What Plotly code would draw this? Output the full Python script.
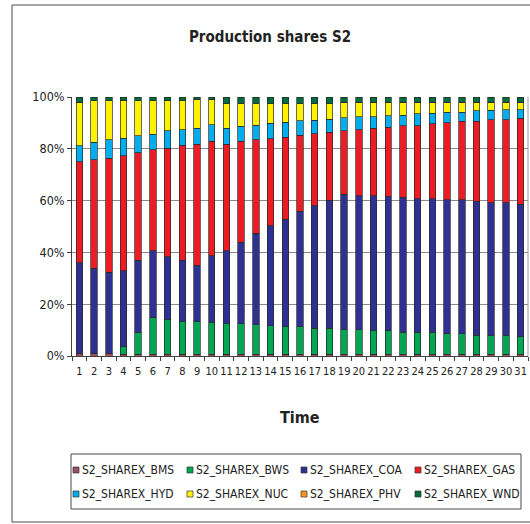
import plotly.graph_objects as go

# ---------------- data ----------------
time_labels = [str(i) for i in range(1, 32)]

series_names = ["S2_SHAREX_BMS", "S2_SHAREX_BWS", "S2_SHAREX_COA", "S2_SHAREX_GAS",
                "S2_SHAREX_HYD", "S2_SHAREX_NUC", "S2_SHAREX_PHV", "S2_SHAREX_WND"]

bms = [1.0, 1.0, 1.0, 0.7, 0.7, 0.7, 0.7, 0.7, 0.7, 0.7,
       0.7, 0.7, 0.7, 0.7, 0.7, 0.7, 0.7, 0.7, 0.7, 0.7,
       0.7, 0.7, 0.7, 0.7, 0.7, 0.7, 0.7, 0.7, 0.7, 0.7, 0.7]
bws = [0.0, 0.0, 0.0, 2.9, 8.4, 14.1, 13.5, 12.8, 12.8, 12.3,
       11.8, 11.8, 11.3, 11.0, 10.6, 10.6, 10.0, 10.0, 9.5, 9.5,
       9.0, 9.0, 8.4, 8.4, 8.4, 7.8, 7.8, 7.3, 7.3, 7.3, 6.8]
coa = [35.1, 32.9, 31.3, 29.3, 27.8, 25.9, 24.2, 23.4, 21.6, 25.8,
       28.1, 31.4, 35.4, 38.6, 41.5, 44.5, 47.3, 49.5, 52.3, 51.7,
       52.2, 51.9, 52.2, 51.7, 51.7, 51.8, 51.8, 51.7, 51.1, 51.1, 51.1]
gas = [38.9, 41.9, 44.0, 44.4, 41.6, 38.9, 41.8, 44.4, 46.7, 44.2,
       41.2, 39.1, 36.1, 33.5, 31.6, 29.4, 27.8, 26.1, 24.5, 25.5,
       26.0, 26.8, 27.6, 28.1, 28.8, 29.8, 30.3, 31.0, 32.1, 32.1, 33.2]
hyd = [6.2, 6.8, 7.2, 6.7, 6.6, 6.1, 6.8, 6.1, 6.2, 6.3,
       6.2, 5.7, 5.5, 6.0, 5.8, 5.7, 5.2, 5.2, 4.9, 4.9,
       4.4, 4.4, 4.1, 4.7, 4.2, 4.1, 3.6, 3.9, 3.6, 3.9, 3.3]
nuc = [16.7, 16.0, 15.1, 14.6, 13.5, 12.9, 11.6, 11.2, 11.2, 9.9,
       9.4, 8.6, 8.3, 7.5, 7.1, 6.4, 6.3, 5.8, 6.0, 5.6,
       5.6, 5.1, 4.9, 4.3, 4.1, 3.7, 3.7, 3.3, 3.1, 2.8, 2.8]
phv = [0.0, 0.0, 0.0, 0.0, 0.0, 0.0, 0.0, 0.0, 0.0, 0.0,
       0.0, 0.0, 0.0, 0.0, 0.0, 0.0, 0.1, 0.1, 0.1, 0.1,
       0.1, 0.1, 0.1, 0.1, 0.1, 0.1, 0.1, 0.1, 0.1, 0.1, 0.1]
wnd = [2.1, 1.4, 1.4, 1.4, 1.4, 1.4, 1.4, 1.4, 0.8, 0.8,
       2.6, 2.7, 2.7, 2.7, 2.7, 2.7, 2.6, 2.6, 2.0, 2.0,
       2.0, 2.0, 2.0, 2.0, 2.0, 2.0, 2.0, 2.0, 2.0, 2.0, 2.0]

series_values = [bms, bws, coa, gas, hyd, nuc, phv, wnd]
series_colors = ["#9B4F60", "#00A651", "#2E3092", "#ED1C24",
                 "#00AEEF", "#FFF200", "#F7941D", "#006B3F"]

y_ticks = [0, 20, 40, 60, 80, 100]
y_tick_labels = ["0%", "20%", "40%", "60%", "80%", "100%"]

# ---------------- figure ----------------
FONT = "DejaVu Sans Condensed, Liberation Sans Narrow, Arial Narrow, sans-serif"
W, H = 530, 524
ML, MR, MT, MB = 72, 2, 97, 168
PW = W - ML - MR
PH = H - MT - MB


def px_x(px):
    return (px - ML) / PW


def px_y(py):
    return (H - MB - py) / PH


fig = go.Figure()
for name, vals, col in zip(series_names, series_values, series_colors):
    fig.add_trace(go.Bar(
        x=time_labels, y=vals, name=name,
        marker=dict(color=col, line=dict(color="#2a2a2a", width=0.7)),
        showlegend=False,
    ))

shapes = []
annotations = []

# outer chart border
shapes.append(dict(type="rect", xref="paper", yref="paper",
                   x0=px_x(12), x1=px_x(540), y0=px_y(522), y1=px_y(5),
                   line=dict(color="#4a4a4a", width=1), fillcolor="rgba(0,0,0,0)",
                   layer="below"))
# plot-area right border
shapes.append(dict(type="line", xref="paper", yref="paper",
                   x0=1, x1=1, y0=0, y1=1,
                   line=dict(color="#9a9a9a", width=1)))

# legend box
shapes.append(dict(type="rect", xref="paper", yref="paper",
                   x0=px_x(71), x1=px_x(521), y0=px_y(509), y1=px_y(454),
                   line=dict(color="#4a4a4a", width=1), fillcolor="rgba(0,0,0,0)"))
row_centers = [470, 494]
col_step = 114
for i, (name, col) in enumerate(zip(series_names, series_colors)):
    r, c = divmod(i, 4)
    x0 = 73 + c * col_step
    yc = row_centers[r]
    shapes.append(dict(type="rect", xref="paper", yref="paper",
                       x0=px_x(x0), x1=px_x(x0 + 6), y0=px_y(yc + 3), y1=px_y(yc - 3),
                       line=dict(color="#333333", width=0.7), fillcolor=col))
    annotations.append(dict(text=name, xref="paper", yref="paper",
                            x=px_x(x0 + 7), y=px_y(yc), xanchor="left", yanchor="middle",
                            showarrow=False, font=dict(family=FONT, size=12, color="#222222")))

# axis title
annotations.append(dict(text="<b>Time</b>", xref="paper", yref="paper",
                        x=px_x(300), y=px_y(417), xanchor="center", yanchor="middle",
                        showarrow=False, font=dict(family=FONT, size=16, color="#222222")))

fig.update_layout(
    width=W, height=H,
    margin=dict(l=ML, r=MR, t=MT, b=MB),
    paper_bgcolor="white", plot_bgcolor="white",
    barmode="stack", barnorm="percent", bargap=0.56,
    title=dict(text="<b>Production shares S2</b>", x=270 / W,
               xanchor="center", y=1 - 37 / H, yanchor="middle",
               font=dict(family=FONT, size=15, color="#222222")),
    font=dict(family=FONT, size=12, color="#222222"),
    shapes=shapes, annotations=annotations,
    showlegend=False,
)
fig.update_xaxes(type="category", categoryorder="array", categoryarray=time_labels,
                 showline=True, linecolor="#404040", linewidth=1,
                 ticks="outside", tickson="boundaries", ticklen=4, tickcolor="#404040",
                 tickangle=0, showgrid=False, ticklabelstandoff=5,
                 tickfont=dict(family=FONT, size=11, color="#222222"))
fig.update_yaxes(range=[0, 100], tickmode="array", tickvals=y_ticks, ticktext=y_tick_labels,
                 showline=True, linecolor="#404040", linewidth=1,
                 ticks="outside", ticklen=4, tickcolor="#404040",
                 showgrid=True, gridcolor="#8a8a8a", gridwidth=1, zeroline=False,
                 tickfont=dict(family=FONT, size=12.5, color="#222222"))

fig.write_html("out.html",
               config={"displayModeBar": False},
               post_script="document.body.style.margin='0px';document.body.style.overflow='hidden';")
